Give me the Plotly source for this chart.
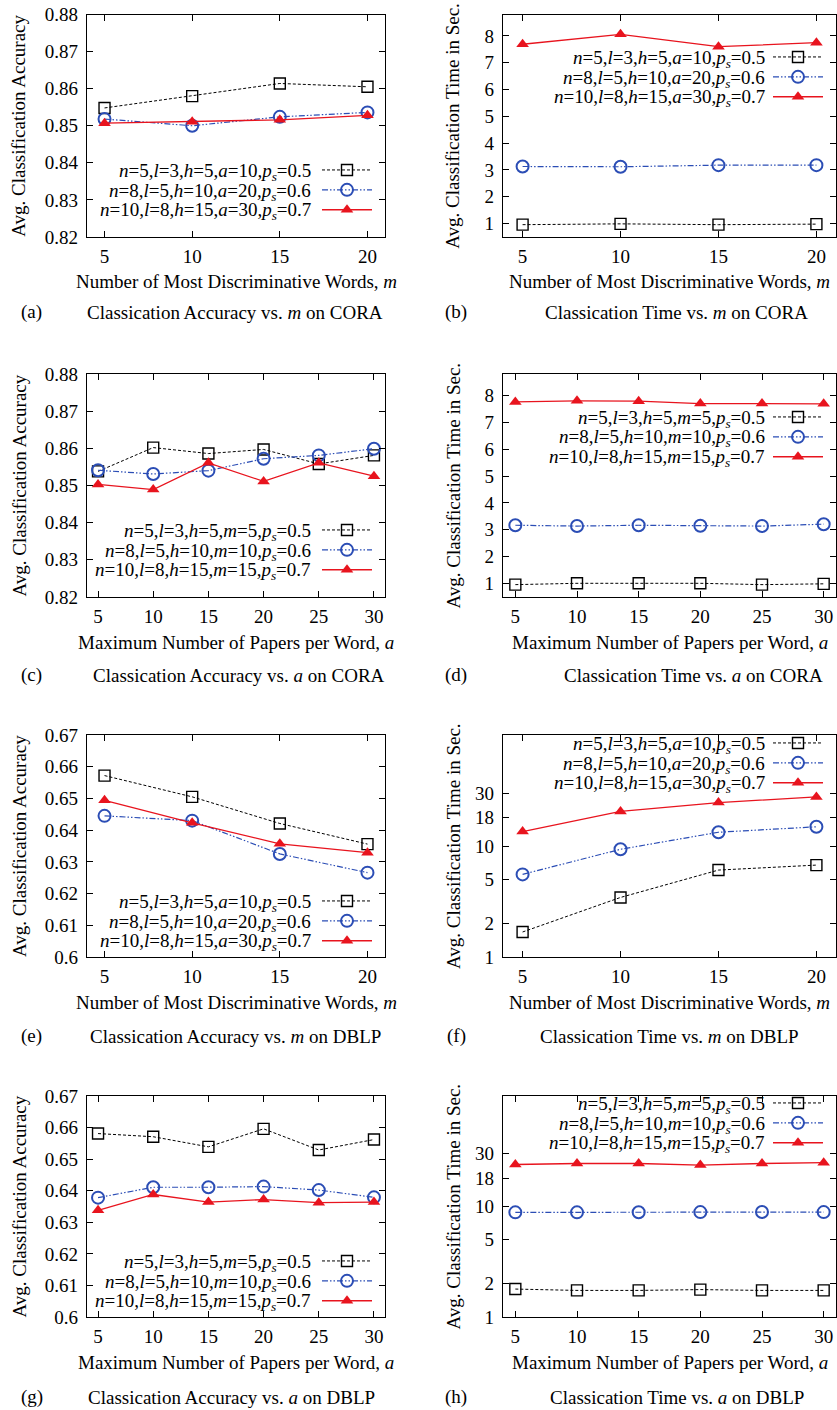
import plotly.graph_objects as go

W, H = 837, 1410
FONT = "Liberation Serif"

# ---------------- data ----------------
m_vals = [5, 10, 15, 20]
a_vals = [5, 10, 15, 20, 25, 30]

labels_m = [
    "<i>n</i>=5,<i>l</i>=3,<i>h</i>=5,<i>a</i>=10,<i>p<sub>s</sub></i>=0.5",
    "<i>n</i>=8,<i>l</i>=5,<i>h</i>=10,<i>a</i>=20,<i>p<sub>s</sub></i>=0.6",
    "<i>n</i>=10,<i>l</i>=8,<i>h</i>=15,<i>a</i>=30,<i>p<sub>s</sub></i>=0.7",
]
labels_a = [
    "<i>n</i>=5,<i>l</i>=3,<i>h</i>=5,<i>m</i>=5,<i>p<sub>s</sub></i>=0.5",
    "<i>n</i>=8,<i>l</i>=5,<i>h</i>=10,<i>m</i>=10,<i>p<sub>s</sub></i>=0.6",
    "<i>n</i>=10,<i>l</i>=8,<i>h</i>=15,<i>m</i>=15,<i>p<sub>s</sub></i>=0.7",
]

# (a) accuracy vs m on CORA
acc_cora_m_1 = [0.8548, 0.8580, 0.8614, 0.8605]
acc_cora_m_2 = [0.8518, 0.8500, 0.8524, 0.8536]
acc_cora_m_3 = [0.8507, 0.8511, 0.8516, 0.8528]
# (b) time vs m on CORA
time_cora_m_1 = [0.96, 0.99, 0.96, 0.98]
time_cora_m_2 = [3.13, 3.12, 3.18, 3.18]
time_cora_m_3 = [7.69, 8.06, 7.60, 7.75]
# (c) accuracy vs a on CORA
acc_cora_a_1 = [0.8538, 0.8602, 0.8586, 0.8597, 0.8558, 0.8581]
acc_cora_a_2 = [0.8541, 0.8531, 0.8540, 0.8572, 0.8581, 0.8599]
acc_cora_a_3 = [0.8503, 0.8489, 0.8561, 0.8511, 0.8561, 0.8525]
# (d) time vs a on CORA
time_cora_a_1 = [0.96, 1.01, 1.01, 1.01, 0.96, 0.99]
time_cora_a_2 = [3.17, 3.14, 3.17, 3.15, 3.14, 3.21]
time_cora_a_3 = [7.76, 7.80, 7.79, 7.70, 7.70, 7.69]
# (e) accuracy vs m on DBLP
acc_dblp_m_1 = [0.6572, 0.6505, 0.6421, 0.6356]
acc_dblp_m_2 = [0.6445, 0.6430, 0.6325, 0.6266]
acc_dblp_m_3 = [0.6494, 0.6423, 0.6357, 0.6329]
# (f) time vs m on DBLP
time_dblp_m_1 = [1.68, 3.44, 6.07, 6.73]
time_dblp_m_2 = [5.55, 9.34, 13.3, 14.9]
time_dblp_m_3 = [13.5, 20.5, 24.6, 27.7]
# (g) accuracy vs a on DBLP
acc_dblp_a_1 = [0.6581, 0.6571, 0.6539, 0.6596, 0.6529, 0.6562]
acc_dblp_a_2 = [0.6378, 0.6411, 0.6411, 0.6413, 0.6402, 0.6379]
acc_dblp_a_3 = [0.6338, 0.6388, 0.6364, 0.6372, 0.6362, 0.6364]
# (h) time vs a on DBLP
time_dblp_a_1 = [1.79, 1.74, 1.74, 1.77, 1.74, 1.74]
time_dblp_a_2 = [8.85, 8.85, 8.87, 8.90, 8.93, 8.90]
time_dblp_a_3 = [24.0, 24.5, 24.5, 23.7, 24.5, 24.9]

acc_cora_ticks = [0.82, 0.83, 0.84, 0.85, 0.86, 0.87, 0.88]
acc_cora_text = ["0.82", "0.83", "0.84", "0.85", "0.86", "0.87", "0.88"]
acc_dblp_ticks = [0.60, 0.61, 0.62, 0.63, 0.64, 0.65, 0.66, 0.67]
acc_dblp_text = ["0.6", "0.61", "0.62", "0.63", "0.64", "0.65", "0.66", "0.67"]
time_lin_ticks = [1, 2, 3, 4, 5, 6, 7, 8]
time_log_ticks = [1, 2, 5, 10, 18, 30]

title_m = "Number of Most Discriminative Words, <i>m</i>"
title_a = "Maximum Number of Papers per Word, <i>a</i>"
title_acc = "Avg. Classification Accuracy"
title_time = "Avg. Classification Time in Sec."

# ---------------- layout geometry (pixels) ----------------
col_x = [(87, 385), (503, 836)]
row_y = [(14.5, 237), (374, 597), (735, 957), (1096, 1317)]

panels = [
    dict(letter="(a)", cap="Classication Accuracy vs. <i>m</i> on CORA", x=m_vals,
         ys=[acc_cora_m_1, acc_cora_m_2, acc_cora_m_3], labels=labels_m, ytype="linear",
         yrange=[0.82, 0.88], tv=acc_cora_ticks, tt=acc_cora_text, xrange=[4, 21],
         xt=title_m, yt=title_acc, row=0, col=0, leg_y=172, cap_y=312, cap_cx=235),
    dict(letter="(b)", cap="Classication Time vs. <i>m</i> on CORA", x=m_vals,
         ys=[time_cora_m_1, time_cora_m_2, time_cora_m_3], labels=labels_m, ytype="linear",
         yrange=[0.5, 8.8], tv=time_lin_ticks, tt=[str(v) for v in time_lin_ticks], xrange=[4, 21],
         xt=title_m, yt=title_time, row=0, col=1, leg_y=59, cap_y=312, cap_cx=676),
    dict(letter="(c)", cap="Classication Accuracy vs. <i>a</i> on CORA", x=a_vals,
         ys=[acc_cora_a_1, acc_cora_a_2, acc_cora_a_3], labels=labels_a, ytype="linear",
         yrange=[0.82, 0.88], tv=acc_cora_ticks, tt=acc_cora_text, xrange=[4, 31],
         xt=title_a, yt=title_acc, row=1, col=0, leg_y=532, cap_y=675, cap_cx=239),
    dict(letter="(d)", cap="Classication Time vs. <i>a</i> on CORA", x=a_vals,
         ys=[time_cora_a_1, time_cora_a_2, time_cora_a_3], labels=labels_a, ytype="linear",
         yrange=[0.5, 8.8], tv=time_lin_ticks, tt=[str(v) for v in time_lin_ticks], xrange=[4, 31],
         xt=title_a, yt=title_time, row=1, col=1, leg_y=419, cap_y=675, cap_cx=693),
    dict(letter="(e)", cap="Classication Accuracy vs. <i>m</i> on DBLP", x=m_vals,
         ys=[acc_dblp_m_1, acc_dblp_m_2, acc_dblp_m_3], labels=labels_m, ytype="linear",
         yrange=[0.60, 0.67], tv=acc_dblp_ticks, tt=acc_dblp_text, xrange=[4, 21],
         xt=title_m, yt=title_acc, row=2, col=0, leg_y=903, cap_y=1036, cap_cx=235),
    dict(letter="(f)", cap="Classication Time vs. <i>m</i> on DBLP", x=m_vals,
         ys=[time_dblp_m_1, time_dblp_m_2, time_dblp_m_3], labels=labels_m, ytype="log",
         yrange=[0, 2], tv=time_log_ticks, tt=[str(v) for v in time_log_ticks], xrange=[4, 21],
         xt=title_m, yt=title_time, row=2, col=1, leg_y=745, cap_y=1036, cap_cx=669),
    dict(letter="(g)", cap="Classication Accuracy vs. <i>a</i> on DBLP", x=a_vals,
         ys=[acc_dblp_a_1, acc_dblp_a_2, acc_dblp_a_3], labels=labels_a, ytype="linear",
         yrange=[0.60, 0.67], tv=acc_dblp_ticks, tt=acc_dblp_text, xrange=[4, 31],
         xt=title_a, yt=title_acc, row=3, col=0, leg_y=1263, cap_y=1397, cap_cx=231),
    dict(letter="(h)", cap="Classication Time vs. <i>a</i> on DBLP", x=a_vals,
         ys=[time_dblp_a_1, time_dblp_a_2, time_dblp_a_3], labels=labels_a, ytype="log",
         yrange=[0, 2], tv=time_log_ticks, tt=[str(v) for v in time_log_ticks], xrange=[4, 31],
         xt=title_a, yt=title_time, row=3, col=1, leg_y=1105, cap_y=1397, cap_cx=677),
]

styles = [
    dict(line=dict(color="black", width=1, dash="3px,2px"),
         marker=dict(symbol="square-open", size=11, color="black", line=dict(width=1.4, color="black"))),
    dict(line=dict(color="#2b4db5", width=1.2, dash="6px,2px,1.5px,2px,1.5px,2px"),
         marker=dict(symbol="circle-open", size=12, color="#2b4db5", line=dict(width=2, color="#2b4db5"))),
    dict(line=dict(color="#e8141e", width=1.3),
         marker=dict(symbol="triangle-up", size=11, color="#e8141e")),
]

FS = 19
ROW_GAP = 19.5

fig = go.Figure()
annotations = []
layout = dict(
    width=W, height=H, margin=dict(l=0, r=0, t=0, b=0, pad=0, autoexpand=False),
    paper_bgcolor="white", plot_bgcolor="white",
    font=dict(family=FONT, size=FS, color="black"),
    showlegend=True,
)

def px(xp):
    return xp / W

def py(yp):
    return 1 - yp / H

for i, p in enumerate(panels):
    k = i + 1
    xs = "" if k == 1 else str(k)
    x0, x1 = col_x[p["col"]]
    y0, y1 = row_y[p["row"]]
    leg = "legend" if k == 1 else f"legend{k}"
    for j in range(3):
        fig.add_trace(go.Scatter(
            x=p["x"], y=p["ys"][j], name="", mode="lines+markers",
            xaxis="x" + xs, yaxis="y" + xs, legend=leg,
            line=styles[j]["line"], marker=styles[j]["marker"],
            hovertemplate=p["labels"][j] + "<br>%{x}, %{y}<extra></extra>",
        ))
    layout["xaxis" + xs] = dict(
        domain=[px(x0), px(x1)], anchor="y" + xs, range=p["xrange"],
        tickvals=p["x"], ticks="inside", ticklen=6, tickwidth=1, tickcolor="black",
        mirror="ticks", showline=True, linecolor="black", linewidth=1.3,
        showgrid=False, zeroline=False, tickfont=dict(size=FS, family=FONT),
        ticklabelstandoff=2,
    )
    layout["yaxis" + xs] = dict(
        domain=[py(y1), py(y0)], anchor="x" + xs, type=p["ytype"], range=p["yrange"],
        tickvals=p["tv"], ticktext=p["tt"], ticks="inside", ticklen=6, tickwidth=1,
        tickcolor="black", mirror="ticks", showline=True, linecolor="black", linewidth=1.3,
        showgrid=False, zeroline=False, tickfont=dict(size=FS, family=FONT),
        ticklabelstandoff=4,
    )
    # legend: samples from native legend, texts as annotations
    sample_left = 322 if p["col"] == 0 else 773
    text_right = 313 if p["col"] == 0 else 767
    layout[leg] = dict(
        x=px(sample_left - 5), y=py(p["leg_y"] - 17), xanchor="left", yanchor="top",
        bgcolor="rgba(0,0,0,0)", borderwidth=0, font=dict(size=13, family=FONT),
        itemwidth=50, tracegroupgap=0,
    )
    for j in range(3):
        annotations.append(dict(text=p["labels"][j], x=px(text_right),
                                y=py(p["leg_y"] + j * ROW_GAP), xref="paper", yref="paper",
                                showarrow=False, xanchor="right", yanchor="middle",
                                font=dict(size=FS)))
    # axis titles
    annotations.append(dict(text=p["xt"], x=px((x0 + x1) / 2), y=py(y1 + 45),
                            xref="paper", yref="paper", showarrow=False,
                            xanchor="center", yanchor="middle", font=dict(size=FS)))
    ytx = 19 if p["col"] == 0 else 453
    annotations.append(dict(text=p["yt"], x=px(ytx), y=py((y0 + y1) / 2), textangle=-90,
                            xref="paper", yref="paper", showarrow=False,
                            xanchor="center", yanchor="middle", font=dict(size=FS)))
    # captions
    lx = 32 if p["col"] == 0 else 456
    annotations.append(dict(text=p["letter"], x=px(lx), y=py(p["cap_y"]),
                            xref="paper", yref="paper", showarrow=False,
                            xanchor="center", yanchor="middle", font=dict(size=FS)))
    annotations.append(dict(text=p["cap"], x=px(p["cap_cx"]), y=py(p["cap_y"]),
                            xref="paper", yref="paper", showarrow=False,
                            xanchor="center", yanchor="middle", font=dict(size=FS)))

layout["annotations"] = annotations
fig.update_layout(**layout)
fig.write_html("out.html", config={"displayModeBar": False},
               post_script="document.body.style.margin='0px';document.body.style.overflow='hidden';")
